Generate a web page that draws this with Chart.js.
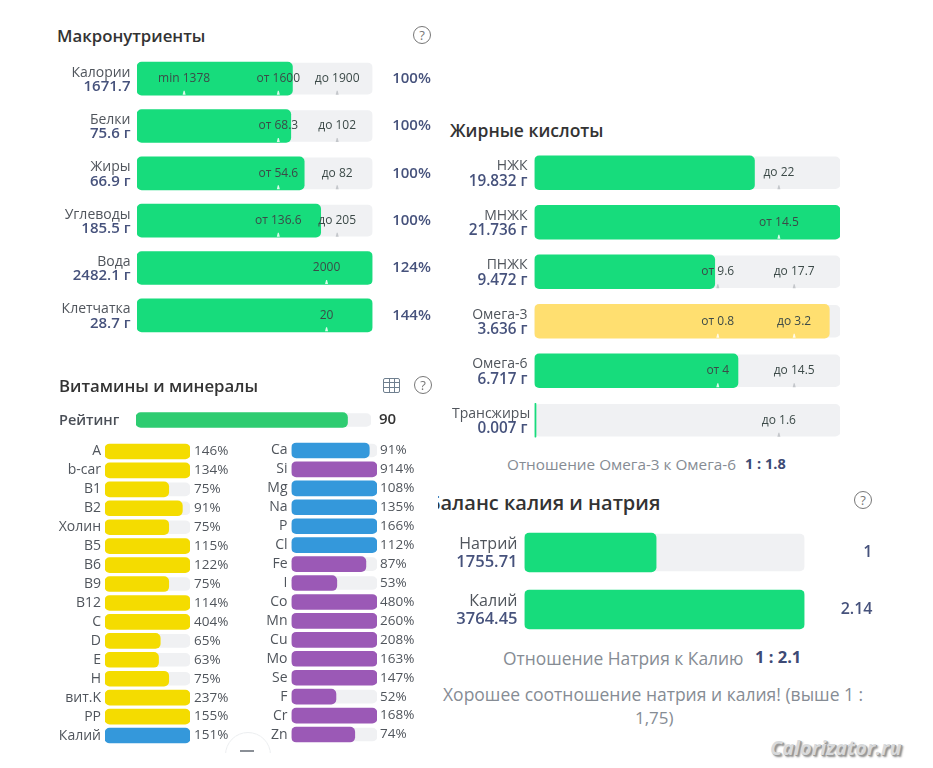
<!DOCTYPE html>
<html>
<head>
<meta charset="utf-8">
<script src="https://cdn.jsdelivr.net/npm/chart.js@4"></script>
<style>
    html, body { margin: 0; padding: 0; background: #fff; }
    body { width: 933px; height: 768px; position: relative; overflow: hidden; font-family: "Open Sans", sans-serif; }
    canvas { position: absolute; }
    .txt { position: absolute; white-space: nowrap; line-height: 1; transform: translateY(-50%); }
    .title { font-weight: 600; color: #333; }
    .note { color: #868c94; }
    .ratio { color: #3d4a75; font-weight: 700; }
    .help { position: absolute; width: 16px; height: 16px; line-height: 16px; border: 1.4px solid #777; border-radius: 50%; color: #777; font-size: 13px; text-align: center; }
</style>
</head>
<body>
<script>
const macroNames = ['Калории', 'Белки', 'Жиры', 'Углеводы', 'Вода', 'Клетчатка'];
const macroValues = ['1671.7', '75.6 г', '66.9 г', '185.5 г', '2482.1 г', '28.7 г'];
const macroFill = [66, 65.3, 71, 78, 100, 100];
const macroPercent = ['100%', '100%', '100%', '100%', '124%', '144%'];
const macroMarkAt = [[20, 60, 85], [60, 85], [60, 85], [60, 85], [80.5], [80.5]];
const macroMarkText = [['min 1378', 'от 1600', 'до 1900'], ['от 68.3', 'до 102'], ['от 54.6', 'до 82'], ['от 136.6', 'до 205'], ['2000'], ['20']];

const fatNames = ['НЖК', 'МНЖК', 'ПНЖК', 'Омега-3', 'Омега-6', 'Трансжиры'];
const fatValues = ['19.832 г', '21.736 г', '9.472 г', '3.636 г', '6.717 г', '0.007 г'];
const fatFill = [72, 100, 59, 96.5, 66.6, 0.5];
const fatMarkAt = [[80], [80], [60, 85], [60, 85], [60, 85], [80]];
const fatMarkText = [['до 22'], ['от 14.5'], ['от 9.6', 'до 17.7'], ['от 0.8', 'до 3.2'], ['от 4', 'до 14.5'], ['до 1.6']];

const balanceNames = ['Натрий', 'Калий'];
const balanceValues = ['1755.71', '3764.45'];
const balanceFill = [47, 100];
const balanceShare = ['1', '2.14'];

const ratingValue = 90;

const vitaminNames = ['A', 'b-car', 'B1', 'B2', 'Холин', 'B5', 'B6', 'B9', 'B12', 'C', 'D', 'E', 'H', 'вит.K', 'PP', 'Калий'];
const vitaminPercent = [146, 134, 75, 91, 75, 115, 122, 75, 114, 404, 65, 63, 75, 237, 155, 151];
const mineralNames = ['Ca', 'Si', 'Mg', 'Na', 'P', 'Cl', 'Fe', 'I', 'Co', 'Mn', 'Cu', 'Mo', 'Se', 'F', 'Cr', 'Zn'];
const mineralPercent = [91, 914, 108, 135, 166, 112, 87, 53, 480, 260, 208, 163, 147, 52, 168, 74];
const macroElements = ['Калий', 'Ca', 'Mg', 'Na', 'P', 'Cl'];

const GREEN = '#17dc7c';
const TRACK = '#f0f1f3';
const NAVY = '#46527c';
const GREY = '#50555c';
const FONT = '"Open Sans", sans-serif';

// labels left of the track, an optional column to the right, range marks on top of the bar
const rowText = {
    id: 'rowText',
    afterDatasetsDraw(chart, args, o) {
        const ctx = chart.ctx;
        const x = chart.scales.x;
        const y = chart.scales.y;
        ctx.save();
        ctx.textBaseline = 'middle';
        chart.data.labels.forEach((name, i) => {
            const cy = y.getPixelForValue(i);
            if (o.values) {
                ctx.textAlign = 'left';
                ctx.fillStyle = GREY;
                ctx.font = '400 ' + o.nameSize + 'px ' + FONT;
                let w = ctx.measureText(name).width;
                ctx.fillText(name, Math.max(x.left - o.gap - w, o.nameMin || 0), cy - o.lineGap + 1);
                ctx.fillStyle = NAVY;
                ctx.font = '600 ' + o.valueSize + 'px ' + FONT;
                w = ctx.measureText(o.values[i]).width;
                ctx.fillText(o.values[i], x.left - o.gap - w, cy + o.lineGap + 1);
            } else {
                ctx.textAlign = 'right';
                ctx.fillStyle = GREY;
                ctx.font = '400 ' + o.nameSize + 'px ' + FONT;
                ctx.fillText(name, x.left - o.gap, cy);
            }
            if (o.right) {
                ctx.fillStyle = o.rightColor;
                ctx.font = o.rightFont + ' ' + FONT;
                ctx.textAlign = o.rightAlign;
                ctx.fillText(o.right[i], x.right + o.rightGap, cy);
            }
            if (o.markAt) {
                const fill = chart.data.datasets[0].data[i];
                o.markAt[i].forEach((m, k) => {
                    const px = x.getPixelForValue(m);
                    const bottom = cy + o.bar / 2;
                    ctx.fillStyle = m < fill ? 'rgba(255,255,255,0.85)' : '#c4c7cb';
                    ctx.beginPath();
                    ctx.moveTo(px - 1.5, bottom);
                    ctx.lineTo(px - 0.5, bottom - 4);
                    ctx.lineTo(px + 0.5, bottom - 4);
                    ctx.lineTo(px + 1.5, bottom);
                    ctx.fill();
                    ctx.fillStyle = '#3c4a48';
                    ctx.font = '400 12px ' + FONT;
                    ctx.textAlign = 'center';
                    ctx.fillText(o.markText[i][k], px, cy);
                });
            }
        });
        ctx.restore();
    }
};

function makePanel(p) {
    const canvas = document.createElement('canvas');
    const n = p.names.length;
    const top = p.firstY - p.step / 2;
    canvas.width = p.right - p.left;
    canvas.height = n * p.step;
    canvas.style.left = p.left + 'px';
    canvas.style.top = top + 'px';
    document.body.appendChild(canvas);
    new Chart(canvas, {
        type: 'bar',
        plugins: [rowText],
        data: {
            labels: p.names,
            datasets: [
                { data: p.fill, backgroundColor: p.color, barThickness: p.bar + 1, borderRadius: 5, borderSkipped: false, order: 0 },
                { data: p.names.map(() => 100), backgroundColor: TRACK, barThickness: p.bar - 1, borderRadius: 5, borderSkipped: false, order: 1 }
            ]
        },
        options: {
            indexAxis: 'y',
            responsive: false,
            animation: false,
            layout: { padding: { left: p.trackLeft - p.left, right: p.right - p.trackRight, top: 0, bottom: 0 } },
            scales: {
                x: { display: false, min: 0, max: 100 },
                y: { display: false, stacked: false }
            },
            datasets: { bar: { grouped: false } },
            plugins: {
                legend: { display: false },
                tooltip: { enabled: false },
                rowText: p.text
            }
        }
    });
}

function addText(x, y, str, size, cls, extra) {
    const d = document.createElement('div');
    d.className = 'txt ' + (cls || '');
    d.style.left = x + 'px';
    d.style.top = y + 'px';
    d.style.fontSize = size + 'px';
    d.textContent = str;
    if (extra) Object.assign(d.style, extra);
    document.body.appendChild(d);
    return d;
}

function addHelp(x, y) {
    const d = document.createElement('div');
    d.className = 'help';
    d.style.left = (x - 9) + 'px';
    d.style.top = (y - 9) + 'px';
    d.textContent = '?';
    document.body.appendChild(d);
}

makePanel({
    names: macroNames, fill: macroFill, color: GREEN,
    left: 40, right: 440, trackLeft: 137, trackRight: 372.5, firstY: 79, step: 47.4, bar: 32,
    text: {
        values: macroValues, nameSize: 14, valueSize: 15, lineGap: 7, gap: 6.5, bar: 32,
        right: macroPercent, rightColor: NAVY, rightFont: '600 15px', rightAlign: 'center', rightGap: 39,
        markAt: macroMarkAt, markText: macroMarkText
    }
});

makePanel({
    names: fatNames, fill: fatFill, color: (c) => c.dataIndex === 3 ? '#ffdf70' : GREEN,
    left: 440, right: 850, trackLeft: 534.5, trackRight: 840, firstY: 173, step: 49.5, bar: 33,
    text: {
        values: fatValues, nameSize: 14, valueSize: 15.3, lineGap: 7.5, gap: 7, nameMin: 12, bar: 33,
        markAt: fatMarkAt, markText: fatMarkText
    }
});

makePanel({
    names: balanceNames, fill: balanceFill, color: GREEN,
    left: 440, right: 885, trackLeft: 524.5, trackRight: 804.5, firstY: 552, step: 57, bar: 38,
    text: {
        values: balanceValues, nameSize: 16, valueSize: 16.5, lineGap: 9, gap: 7,
        right: balanceShare, rightColor: NAVY, rightFont: '600 16px', rightAlign: 'right', rightGap: 68
    }
});

makePanel({
    names: ['Рейтинг'], fill: [ratingValue], color: '#2ecc71',
    left: 50, right: 410, trackLeft: 136, trackRight: 371, firstY: 420, step: 24, bar: 14,
    text: { nameSize: 0.01, gap: 6, right: [String(ratingValue)], rightColor: '#333', rightFont: '600 15px', rightAlign: 'left', rightGap: 8 }
});
addText(59, 420, 'Рейтинг', 14.5, '', { fontWeight: 600, color: '#4a4f57' });

makePanel({
    names: vitaminNames, fill: vitaminPercent.map((v) => Math.min(v, 100)),
    color: (c) => macroElements.includes(vitaminNames[c.dataIndex]) ? '#3498db' : '#f4dc00',
    left: 50, right: 240, trackLeft: 105, trackRight: 190, firstY: 451.3, step: 18.97, bar: 14,
    text: {
        nameSize: 14, gap: 4,
        right: vitaminPercent.map((v) => v + '%'), rightColor: GREY, rightFont: '400 13.5px', rightAlign: 'left', rightGap: 4
    }
});

makePanel({
    names: mineralNames, fill: mineralPercent.map((v) => Math.min(v, 100)),
    color: (c) => macroElements.includes(mineralNames[c.dataIndex]) ? '#3498db' : '#9b59b6',
    left: 240, right: 425, trackLeft: 291.5, trackRight: 377, firstY: 450.3, step: 18.97, bar: 14,
    text: {
        nameSize: 14, gap: 4,
        right: mineralPercent.map((v) => v + '%'), rightColor: GREY, rightFont: '400 13.5px', rightAlign: 'left', rightGap: 3
    }
});

addText(57, 36, 'Макронутриенты', 16.8, 'title');
addText(59, 386, 'Витамины и минералы', 16.8, 'title');
addText(450, 131, 'Жирные кислоты', 17.5, 'title');
const balanceClip = addText(438, 503, 'Баланс калия и натрия', 20, 'title', { width: 240, overflow: 'hidden', height: '26px', lineHeight: '26px' });
balanceClip.style.textIndent = '-10px';

addHelp(422, 35);
addHelp(423, 385);
addHelp(863, 500);

// table icon next to the vitamins title
const tableIcon = document.createElement('div');
tableIcon.style.cssText = 'position:absolute;left:383px;top:378px;width:15px;height:13px;border:1.3px solid #6f7f8f;border-radius:2px;' +
    'background:linear-gradient(#6f7f8f,#6f7f8f) 0 3px/100% 1px no-repeat,linear-gradient(#6f7f8f,#6f7f8f) 0 8px/100% 1px no-repeat,' +
    'linear-gradient(#6f7f8f,#6f7f8f) 4.5px 0/1px 100% no-repeat,linear-gradient(#6f7f8f,#6f7f8f) 9.5px 0/1px 100% no-repeat;';
document.body.appendChild(tableIcon);

// collapsed "more" button under the vitamins list, cut off by the page fade
const moreClip = document.createElement('div');
moreClip.style.cssText = 'position:absolute;left:220px;top:728px;width:54px;height:25px;overflow:hidden;';
moreClip.innerHTML = '<div style="position:absolute;left:5px;top:4px;width:44px;height:44px;border:1px solid #eceef0;border-radius:50%;background:#fff;"></div>' +
    '<div style="position:absolute;left:20px;top:22px;width:14px;height:1.5px;background:#8a8f96;"></div>';
document.body.appendChild(moreClip);

addText(507, 465, 'Отношение Омега-3 к Омега-6', 15.3, 'note');
addText(745, 464, '1 : 1.8', 14.5, 'ratio');
addText(503, 659, 'Отношение Натрия к Калию', 17.4, 'note');
addText(755, 657, '1 : 2.1', 16.5, 'ratio');
addText(443, 695, 'Хорошее соотношение натрия и калия! (выше 1 :', 17.5, 'note');
addText(635, 717, '1,75)', 17, 'note');

addText(770, 748, 'Calorizator.ru', 20, '', {
    fontWeight: 700, fontStyle: 'italic', color: '#d8dadc',
    textShadow: '1px 1px 0 #9a9a9a, 2px 2px 2px #888'
});
</script>
</body>
</html>
